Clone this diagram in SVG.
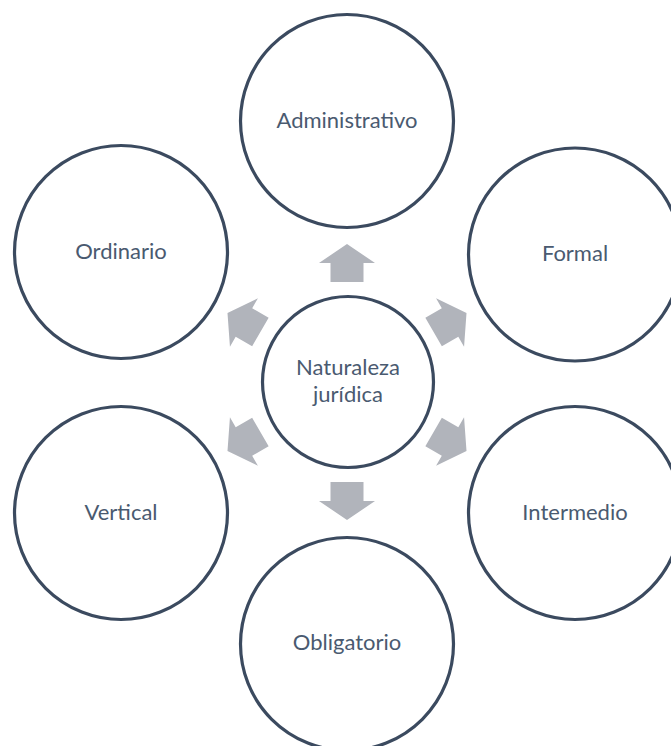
<svg xmlns="http://www.w3.org/2000/svg" width="671" height="746" viewBox="0 0 671 746">
<style>
.c{fill:#fff;stroke:#3b4a5f;stroke-width:3.2}
.t{font-family:Lato,"Liberation Sans",sans-serif;font-size:22px;fill:#4a5a70;text-anchor:middle}
.a{fill:#b1b4bb}
</style>
<defs>
<path id="arr" d="M0,-138 L28,-119 L16.5,-119 L16.5,-100 L-16.5,-100 L-16.5,-119 L-28,-119 Z"/>
</defs>
<rect width="671" height="746" fill="#fff"/>
<g id="connectors" class="a">
<use href="#arr" transform="translate(347,382)"/>
<use href="#arr" transform="translate(347,382) rotate(60)"/>
<use href="#arr" transform="translate(347,382) rotate(120)"/>
<use href="#arr" transform="translate(347,382) rotate(180)"/>
<use href="#arr" transform="translate(347,382) rotate(240)"/>
<use href="#arr" transform="translate(347,382) rotate(300)"/>
</g>
<g id="center"><circle class="c" cx="348" cy="382" r="85.5"/><text class="t" x="348" y="375">Naturaleza</text><text class="t" x="348" y="402">jurídica</text></g>
<g id="administrativo"><circle class="c" cx="347" cy="121" r="106.5"/><text class="t" x="347" y="128">Administrativo</text></g>
<g id="formal"><circle class="c" cx="575" cy="254.5" r="106.5"/><text class="t" x="575" y="261">Formal</text></g>
<g id="intermedio"><circle class="c" cx="575" cy="513" r="106.5"/><text class="t" x="575" y="520">Intermedio</text></g>
<g id="obligatorio"><circle class="c" cx="347" cy="644" r="106.5"/><text class="t" x="347" y="650">Obligatorio</text></g>
<g id="vertical"><circle class="c" cx="121" cy="513" r="106.5"/><text class="t" x="121" y="520">Vertical</text></g>
<g id="ordinario"><circle class="c" cx="121" cy="252" r="106.5"/><text class="t" x="121" y="259">Ordinario</text></g>
</svg>
